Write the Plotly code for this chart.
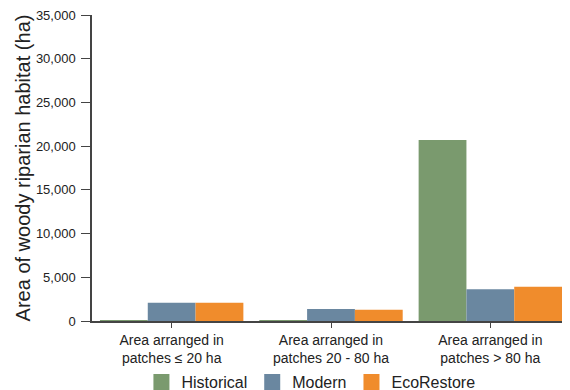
import plotly.graph_objects as go

categories = ["Area arranged in<br>patches ≤ 20 ha", "Area arranged in<br>patches 20 - 80 ha", "Area arranged in<br>patches > 80 ha"]
historical = [90, 80, 20700]
modern = [2080, 1380, 3640]
ecorestore = [2080, 1280, 3920]

series = [("Historical", historical, "#7a9a6e"), ("Modern", modern, "#6a87a0"), ("EcoRestore", ecorestore, "#f08c2c")]

fig = go.Figure()
for name, vals, col in series:
    fig.add_trace(go.Bar(x=categories, y=vals, name=name, showlegend=False,
                         marker=dict(color=col, line=dict(width=0))))
# legend entries (large square swatches)
for name, vals, col in series:
    fig.add_trace(go.Scatter(x=[None], y=[None], mode="markers", name=name,
                             marker=dict(symbol="square", size=24, color=col)))

fig.update_layout(
    width=562, height=382,
    margin=dict(l=84, r=0, t=7, b=69, autoexpand=False),
    barmode="group", bargap=0.1, bargroupgap=0,
    plot_bgcolor="white", paper_bgcolor="white",
    font=dict(family="Liberation Sans, Arial, sans-serif", color="#222"),
    legend=dict(orientation="h", x=0.458, xanchor="center", y=-0.2, yanchor="middle",
                bgcolor="rgba(0,0,0,0)",
                font=dict(size=16, color="#222"), itemwidth=30, traceorder="normal"),
    showlegend=True,
)
fig.update_xaxes(showline=True, linecolor="#444", linewidth=1.5, ticks="outside", ticklen=5,
                 tickcolor="#444", tickfont=dict(size=14, color="#222"), showgrid=False,
                 automargin=False)
fig.update_yaxes(range=[0, 35000], dtick=5000, tickformat=",", showline=True, linecolor="#444",
                 linewidth=1.5, ticks="outside", ticklen=9, tickcolor="#444", showgrid=False,
                 zeroline=False, tickfont=dict(size=13, color="#222"), automargin=False,
                 ticklabelstandoff=3, ticklabeloverflow="allow",
                 title=dict(text="Area of woody riparian habitat (ha)", font=dict(size=20, color="#222"), standoff=0))

fig.write_html("out.html")
